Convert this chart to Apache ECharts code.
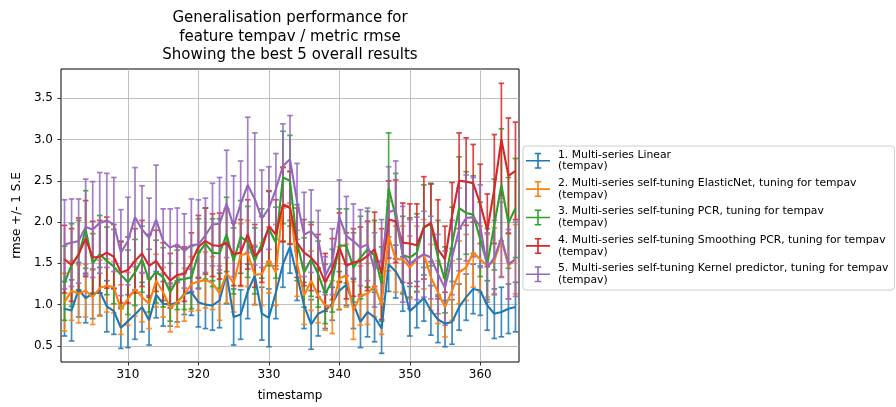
<!DOCTYPE html>
<html>
<head>
<meta charset="utf-8">
<title>Generalisation performance – tempav / rmse</title>
<script src="https://cdn.jsdelivr.net/npm/echarts@6/dist/echarts.min.js"></script>
<style>
  html, body { margin: 0; padding: 0; background: #fff; }
  #chart { width: 896px; height: 407px; }
</style>
</head>
<body>
<div id="chart"></div>
<script>
// Time steps on the x axis
const timestamps = [
  301, 302, 303, 304, 305, 306, 307, 308, 309, 310,
  311, 312, 313, 314, 315, 316, 317, 318, 319, 320,
  321, 322, 323, 324, 325, 326, 327, 328, 329, 330,
  331, 332, 333, 334, 335, 336, 337, 338, 339, 340,
  341, 342, 343, 344, 345, 346, 347, 348, 349, 350,
  351, 352, 353, 354, 355, 356, 357, 358, 359, 360,
  361, 362, 363, 364, 365
];

const xTicks = [310, 320, 330, 340, 350, 360];
const yTicks = [0.5, 1.0, 1.5, 2.0, 2.5, 3.0, 3.5];

const modelNames = [
  '1. Multi-series Linear\n(tempav)',
  '2. Multi-series self-tuning ElasticNet, tuning for tempav\n(tempav)',
  '3. Multi-series self-tuning PCR, tuning for tempav\n(tempav)',
  '4. Multi-series self-tuning Smoothing PCR, tuning for tempav\n(tempav)',
  '5. Multi-series self-tuning Kernel predictor, tuning for tempav\n(tempav)'
];

// Mean rmse per timestamp
const linearRmse = [
  0.95, 0.93, 1.18, 1.08, 1.13, 1.16, 0.98, 0.92, 0.72, 0.80,
  0.88, 0.97, 0.81, 1.12, 1.01, 1.00, 1.03, 1.13, 1.15, 1.03,
  1.00, 0.99, 1.05, 1.37, 0.85, 0.88, 1.16, 1.35, 0.89, 0.84,
  1.15, 1.49, 1.70, 1.35, 0.99, 0.76, 0.89, 0.93, 1.01, 1.17,
  1.24, 1.01, 0.79, 0.91, 0.85, 0.71, 1.49, 1.40, 1.25, 0.92,
  1.00, 1.08, 0.93, 0.82, 0.77, 0.79, 0.97, 1.09, 1.19, 1.17,
  0.99, 0.89, 0.91, 0.95, 0.97
];
const elasticNetRmse = [
  1.03, 1.17, 1.13, 1.17, 1.09, 1.20, 1.23, 1.21, 0.94, 1.07,
  1.19, 1.09, 1.01, 1.29, 1.15, 0.96, 1.03, 1.12, 1.25, 1.28,
  1.30, 1.26, 1.14, 1.38, 1.26, 1.60, 1.62, 1.36, 1.37, 1.54,
  1.39, 2.22, 2.18, 1.50, 1.11, 1.29, 1.11, 0.99, 0.97, 1.32,
  1.35, 0.93, 1.11, 1.13, 1.23, 0.99, 1.83, 1.55, 1.55, 1.45,
  1.55, 1.61, 1.33, 1.15, 0.97, 1.17, 1.39, 1.45, 1.63, 1.55,
  1.47, 1.53, 1.79, 1.47, 1.55
];
const pcrRmse = [
  1.26, 1.48, 1.60, 1.91, 1.50, 1.61, 1.53, 1.46, 1.36, 1.27,
  1.39, 1.55, 1.29, 1.40, 1.33, 1.15, 1.30, 1.31, 1.33, 1.62,
  1.74, 1.63, 1.62, 1.85, 1.53, 1.82, 1.76, 1.53, 1.74, 1.92,
  1.75, 2.54, 2.50, 1.75, 1.39, 1.55, 1.37, 1.13, 1.29, 1.72,
  1.71, 1.45, 1.57, 1.67, 1.60, 1.25, 2.41, 2.07, 1.60, 1.57,
  1.63, 1.95, 1.97, 1.57, 1.30, 1.73, 2.17, 2.11, 2.09, 1.79,
  1.49, 1.97, 2.45, 1.99, 2.17
];
const smoothingPcrRmse = [
  1.55, 1.48, 1.61, 1.80, 1.57, 1.58, 1.63, 1.58, 1.39, 1.42,
  1.53, 1.62, 1.47, 1.53, 1.40, 1.29, 1.36, 1.37, 1.51, 1.70,
  1.77, 1.72, 1.71, 1.75, 1.61, 1.63, 1.85, 1.59, 1.67, 1.95,
  1.85, 2.21, 2.17, 1.75, 1.63, 1.57, 1.47, 1.27, 1.43, 1.69,
  1.47, 1.51, 1.53, 1.59, 1.67, 1.37, 2.03, 2.01, 1.75, 1.74,
  1.72, 1.93, 1.99, 1.67, 1.55, 2.08, 2.50, 2.49, 2.47, 2.22,
  1.90, 2.40, 3.00, 2.56, 2.62
];
const kernelRmse = [
  1.73, 1.75, 1.77, 1.94, 1.91, 1.99, 2.02, 1.97, 1.63, 1.77,
  2.06, 1.91, 1.81, 2.03, 1.77, 1.69, 1.73, 1.65, 1.72, 1.73,
  1.84, 1.97, 1.98, 2.22, 1.95, 2.22, 2.45, 2.28, 2.04, 2.17,
  2.40, 2.68, 2.76, 2.25, 1.85, 1.89, 1.79, 1.35, 1.52, 2.06,
  1.83, 1.77, 1.69, 1.73, 1.42, 1.55, 2.12, 2.15, 1.61, 1.49,
  1.56, 1.61, 1.57, 1.37, 1.20, 1.57, 1.91, 2.05, 2.06, 1.95,
  1.45, 1.57, 1.81, 1.49, 1.55
];

// One standard error per timestamp
const linearSe = [
  0.33, 0.37, 0.33, 0.30, 0.30, 0.29, 0.31, 0.28, 0.25, 0.32,
  0.30, 0.30, 0.30, 0.28, 0.27, 0.26, 0.24, 0.25, 0.28, 0.30,
  0.29, 0.30, 0.33, 0.36, 0.34, 0.30, 0.33, 0.35, 0.32, 0.35,
  0.32, 0.28, 0.32, 0.30, 0.28, 0.30, 0.27, 0.22, 0.20, 0.23,
  0.25, 0.30, 0.31, 0.30, 0.30, 0.30, 0.33, 0.32, 0.33, 0.30,
  0.28, 0.28, 0.30, 0.28, 0.28, 0.27, 0.28, 0.28, 0.30, 0.30,
  0.30, 0.30, 0.30, 0.30, 0.30
];
const elasticNetSe = [
  0.35, 0.36, 0.35, 0.32, 0.33, 0.34, 0.32, 0.31, 0.30, 0.32,
  0.33, 0.30, 0.30, 0.32, 0.30, 0.29, 0.30, 0.32, 0.33, 0.35,
  0.34, 0.32, 0.33, 0.36, 0.35, 0.38, 0.40, 0.36, 0.38, 0.40,
  0.40, 0.45, 0.44, 0.40, 0.35, 0.36, 0.33, 0.30, 0.32, 0.38,
  0.38, 0.35, 0.36, 0.37, 0.38, 0.35, 0.42, 0.40, 0.40, 0.38,
  0.40, 0.42, 0.40, 0.38, 0.36, 0.36, 0.38, 0.40, 0.42, 0.40,
  0.38, 0.40, 0.45, 0.40, 0.42
];
const pcrSe = [
  0.45, 0.50, 0.42, 0.47, 0.36, 0.47, 0.41, 0.45, 0.41, 0.39,
  0.40, 0.40, 0.38, 0.38, 0.36, 0.35, 0.36, 0.37, 0.38, 0.42,
  0.43, 0.41, 0.42, 0.45, 0.40, 0.44, 0.43, 0.40, 0.42, 0.45,
  0.43, 0.56, 0.55, 0.46, 0.42, 0.45, 0.40, 0.36, 0.38, 0.44,
  0.45, 0.42, 0.50, 0.46, 0.42, 0.45, 0.67, 0.52, 0.47, 0.48,
  0.47, 0.50, 0.50, 0.45, 0.40, 0.45, 0.62, 0.50, 0.47, 0.45,
  0.43, 0.55, 0.68, 0.55, 0.60
];
const smoothingPcrSe = [
  0.41, 0.44, 0.44, 0.46, 0.44, 0.44, 0.43, 0.39, 0.37, 0.40,
  0.39, 0.40, 0.38, 0.37, 0.35, 0.33, 0.34, 0.33, 0.36, 0.38,
  0.40, 0.38, 0.40, 0.41, 0.38, 0.40, 0.42, 0.38, 0.40, 0.43,
  0.42, 0.45, 0.44, 0.42, 0.40, 0.40, 0.38, 0.35, 0.37, 0.42,
  0.40, 0.41, 0.41, 0.42, 0.45, 0.55, 0.47, 0.50, 0.48, 0.48,
  0.50, 0.62, 0.47, 0.60, 0.40, 0.40, 0.58, 0.53, 0.47, 0.48,
  0.44, 0.66, 0.68, 0.70, 0.59
];
const kernelSe = [
  0.54, 0.53, 0.51, 0.58, 0.58, 0.61, 0.57, 0.57, 0.52, 0.53,
  0.60, 0.53, 0.48, 0.66, 0.39, 0.47, 0.44, 0.45, 0.56, 0.54,
  0.45, 0.50, 0.56, 0.65, 0.61, 0.52, 0.82, 0.80, 0.59, 0.50,
  0.43, 0.51, 0.53, 0.46, 0.51, 0.50, 0.35, 0.23, 0.40, 0.45,
  0.48, 0.45, 0.46, 0.44, 0.45, 0.48, 0.55, 0.59, 0.58, 0.54,
  0.50, 0.52, 0.50, 0.48, 0.45, 0.45, 0.50, 0.52, 0.48, 0.50,
  0.42, 0.45, 0.48, 0.42, 0.45
];

const meansByModel = [linearRmse, elasticNetRmse, pcrRmse, smoothingPcrRmse, kernelRmse];
const seByModel = [linearSe, elasticNetSe, pcrSe, smoothingPcrSe, kernelSe];
const palette = ['#1f77b4', '#ff7f0e', '#2ca02c', '#d62728', '#9467bd'];

const FONT = 'DejaVu Sans';
// legend glyph: horizontal stroke crossed by a capped vertical bar
const errorbarIcon = 'path://M0,9.2h24v1.6h-24z M11.2,2h1.6v16h-1.6z M8.8,2h6.4v1.5h-6.4z M8.8,16.5h6.4v1.5h-6.4z';

function makeErrorBars(color) {
  return function (params, api) {
    const x = api.value(0);
    const top = api.coord([x, api.value(2)]);
    const bot = api.coord([x, api.value(1)]);
    const cap = 2.8;
    const style = { stroke: color, lineWidth: 1.7, opacity: 0.85 };
    return {
      type: 'group',
      children: [
        { type: 'line', shape: { x1: top[0], y1: top[1], x2: bot[0], y2: bot[1] }, style: style },
        { type: 'line', shape: { x1: top[0] - cap, y1: top[1], x2: top[0] + cap, y2: top[1] }, style: style },
        { type: 'line', shape: { x1: bot[0] - cap, y1: bot[1], x2: bot[0] + cap, y2: bot[1] }, style: style }
      ]
    };
  };
}

const series = [];
meansByModel.forEach(function (means, k) {
  const se = seByModel[k];
  series.push({
    type: 'custom',
    name: modelNames[k],
    renderItem: makeErrorBars(palette[k]),
    encode: { x: 0, y: [1, 2] },
    itemStyle: { color: palette[k] },
    data: timestamps.map(function (t, i) {
      return [t, +(means[i] - se[i]).toFixed(3), +(means[i] + se[i]).toFixed(3)];
    }),
    clip: true,
    silent: true
  });
  series.push({
    type: 'line',
    name: modelNames[k],
    data: timestamps.map(function (t, i) { return [t, means[i]]; }),
    showSymbol: false,
    symbol: 'none',
    lineStyle: { color: palette[k], width: 2.1 },
    itemStyle: { color: palette[k] },
    clip: true
  });
});

const chart = echarts.init(document.getElementById('chart'), null, { renderer: 'canvas' });
chart.setOption({
  animation: false,
  backgroundColor: '#ffffff',
  title: {
    text: 'Generalisation performance for\nfeature tempav / metric rmse\nShowing the best 5 overall results',
    left: 290,
    top: 9,
    padding: 0,
    textAlign: 'center',
    textStyle: { fontFamily: FONT, fontSize: 15, fontWeight: 'normal', color: '#000', lineHeight: 18.5 }
  },
  legend: {
    orient: 'vertical',
    left: 523,
    top: 146,
    padding: [3, 6, 4, 3],
    itemGap: 5,
    itemWidth: 24,
    itemHeight: 20,
    icon: errorbarIcon,
    borderColor: '#cccccc',
    borderWidth: 1,
    borderRadius: 3,
    backgroundColor: 'rgba(255,255,255,0.8)',
    textStyle: { fontFamily: FONT, fontSize: 10.8, lineHeight: 11.7, color: '#000', padding: [0, 0, 0, 3] },
    data: modelNames.map(function (n, k) { return { name: n, itemStyle: { color: palette[k] } }; })
  },
  grid: {
    left: 61, top: 69, width: 458, height: 297,
    show: true, borderColor: '#000', borderWidth: 1, backgroundColor: 'transparent'
  },
  xAxis: {
    type: 'value',
    min: 300.5,
    max: 365.5,
    name: 'timestamp',
    nameLocation: 'middle',
    nameGap: 28,
    nameTextStyle: { fontFamily: FONT, fontSize: 12, color: '#000' },
    axisLine: { show: false },
    axisTick: { show: true, inside: false, length: 3.5, customValues: xTicks, lineStyle: { color: '#000', width: 0.8 } },
    axisLabel: { customValues: xTicks, margin: 7, fontFamily: FONT, fontSize: 12, color: '#000' },
    splitLine: { show: true, lineStyle: { color: '#b0b0b0', width: 0.8 } }
  },
  yAxis: {
    type: 'value',
    min: 0.305,
    max: 3.854,
    splitNumber: 7,
    name: 'rmse +/- 1 S.E',
    nameLocation: 'middle',
    nameGap: 37,
    nameTextStyle: { fontFamily: FONT, fontSize: 12, color: '#000' },
    axisLine: { show: false },
    axisTick: { show: true, inside: false, length: 3.5, customValues: yTicks, lineStyle: { color: '#000', width: 0.8 } },
    axisLabel: {
      customValues: yTicks, margin: 8, fontFamily: FONT, fontSize: 12, color: '#000',
      formatter: function (v) { return v.toFixed(1); }
    },
    splitLine: { show: true, lineStyle: { color: '#b0b0b0', width: 0.8 } }
  },
  series: series
});
</script>
</body>
</html>
